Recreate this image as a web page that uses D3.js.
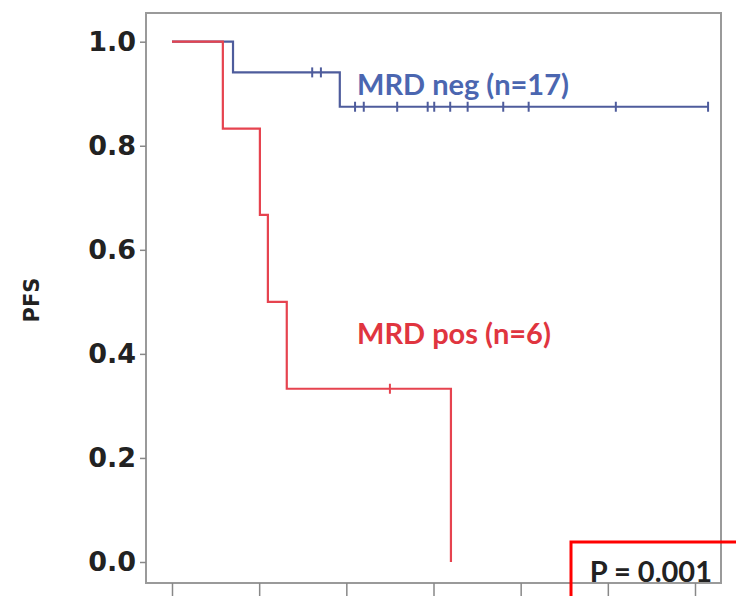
<!DOCTYPE html>
<html>
<head>
<meta charset="utf-8">
<script src="https://d3js.org/d3.v7.min.js"></script>
<style>
  body { margin: 0; background: #fff; }
  svg { display: block; }
</style>
</head>
<body>
<div class="vis"></div>
<script>
  // Kaplan-Meier PFS by MRD status (months)
  var xTicks = [0, 12, 24, 36, 48, 60, 72];
  var yTicks = [0, 0.2, 0.4, 0.6, 0.8, 1.0];

  var negTimes = [0, 8.4, 23.1];
  var negSurv = [1.0, 0.941, 0.875];
  var negEnd = 73.8;
  var negCensor = [19.3, 20.5, 25.2, 26.4, 31.0, 35.2, 36.1, 38.3, 40.7, 45.6, 49.1, 61.1, 73.8];

  var posTimes = [0, 7.0, 12.1, 13.2, 15.8, 38.4];
  var posSurv = [1.0, 0.833, 0.667, 0.5, 0.333, 0.0];
  var posEnd = 38.4;
  var posCensor = [30.0];

  var labels = ["MRD neg (n=17)", "MRD pos (n=6)"];
  var pText = "P = 0.001";

  var width = 736, height = 596;
  var frame = { left: 146, top: 13, right: 721, bottom: 583 };

  var svg = d3.select('.vis').append('svg')
    .attr('width', width)
    .attr('height', height);

  var x = d3.scaleLinear().domain([0, 72]).range([172, 695]);
  var y = d3.scaleLinear().domain([0, 1]).range([562, 41.7]);

  // plot frame
  svg.append('rect')
    .attr('x', frame.left)
    .attr('y', frame.top)
    .attr('width', frame.right - frame.left)
    .attr('height', frame.bottom - frame.top)
    .attr('fill', 'none')
    .attr('stroke', '#9a9a9a')
    .attr('stroke-width', 2);

  // y axis
  var yAxis = svg.append('g')
    .attr('transform', 'translate(' + frame.left + ',0)')
    .call(d3.axisLeft(y).tickValues(yTicks).tickSize(6).tickPadding(4).tickFormat(d3.format('.1f')));
  yAxis.select('.domain').remove();
  yAxis.selectAll('line').attr('stroke', '#888').attr('stroke-width', 1.5);
  yAxis.selectAll('text')
    .attr('fill', '#222')
    .style('font-family', 'DejaVu Sans')
    .style('font-weight', 'bold')
    .style('font-size', '27px');

  // x axis (labels fall below the picture)
  var xAxis = svg.append('g')
    .attr('transform', 'translate(0,' + frame.bottom + ')')
    .call(d3.axisBottom(x).tickValues(xTicks).tickSize(14).tickFormat(''));
  xAxis.select('.domain').remove();
  xAxis.selectAll('line').attr('stroke', '#888').attr('stroke-width', 1.5);

  // y label
  svg.append('text')
    .attr('transform', 'translate(39,300) rotate(-90)')
    .attr('text-anchor', 'middle')
    .attr('fill', '#222')
    .style('font-family', 'DejaVu Sans')
    .style('font-weight', 'bold')
    .style('font-size', '21px')
    .text('PFS');

  function stepPoints(times, surv, end) {
    var pts = times.map(function (t, i) { return [t, surv[i]]; });
    pts.push([end, surv[surv.length - 1]]);
    return pts;
  }

  function survAt(times, surv, t) {
    var i = d3.bisectRight(times, t) - 1;
    return surv[Math.max(0, i)];
  }

  var line = d3.line()
    .x(function (d) { return x(d[0]); })
    .y(function (d) { return y(d[1]); })
    .curve(d3.curveStepAfter);

  function drawCurve(times, surv, end, censor, color) {
    var g = svg.append('g');
    g.append('path')
      .attr('d', line(stepPoints(times, surv, end)))
      .attr('fill', 'none')
      .attr('stroke', color)
      .attr('stroke-width', 2.2);
    g.selectAll('line.censor')
      .data(censor)
      .enter()
      .append('line')
      .attr('class', 'censor')
      .attr('x1', function (d) { return x(d); })
      .attr('x2', function (d) { return x(d); })
      .attr('y1', function (d) { return y(survAt(times, surv, d)) - 5; })
      .attr('y2', function (d) { return y(survAt(times, surv, d)) + 5; })
      .attr('stroke', color)
      .attr('stroke-width', 2);
  }

  drawCurve(negTimes, negSurv, negEnd, negCensor, '#4e5c9c');
  drawCurve(posTimes, posSurv, posEnd, posCensor, '#e6434f');

  // group labels
  svg.append('text')
    .attr('x', 357)
    .attr('y', 95)
    .attr('fill', '#4b66b0')
    .style('font-family', 'Lato')
    .style('font-weight', 'bold')
    .style('font-size', '29px')
    .text(labels[0]);

  svg.append('text')
    .attr('x', 357)
    .attr('y', 344)
    .attr('fill', '#e0353f')
    .style('font-family', 'Lato')
    .style('font-weight', 'bold')
    .style('font-size', '29px')
    .text(labels[1]);

  // p-value box
  svg.append('rect')
    .attr('x', 571)
    .attr('y', 542)
    .attr('width', 180)
    .attr('height', 70)
    .attr('fill', 'none')
    .attr('stroke', '#ff0000')
    .attr('stroke-width', 3);

  svg.append('text')
    .attr('x', 712)
    .attr('y', 582)
    .attr('text-anchor', 'end')
    .attr('fill', '#222')
    .style('font-family', 'Lato')
    .style('font-weight', 'bold')
    .style('font-size', '29px')
    .text(pText);
</script>
</body>
</html>
